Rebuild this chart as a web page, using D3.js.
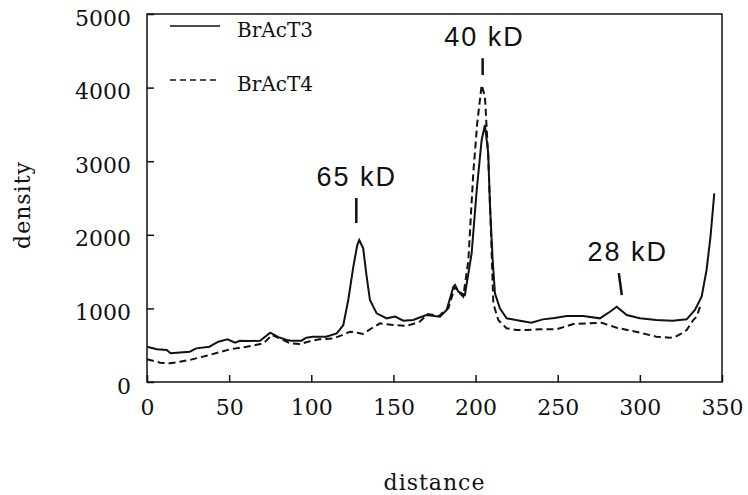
<!DOCTYPE html>
<html>
<head>
<meta charset="utf-8">
<script src="https://cdn.jsdelivr.net/npm/d3@7"></script>
<style>
  body { margin: 0; background: #fff; }
  svg { display: block; }
</style>
</head>
<body>
<div id="grafico"></div>
<script>
// densitometria - BrAcT3 (linha cheia) e BrAcT4 (tracejada)
const bract3 = [
  [0,480],[6,444],[12,435],[14.4,390],[20,400],[26,412],[30,457],[38,480],[43.4,548],[49,580],
  [53.6,534],[56.6,561],[62,556],[68.8,561],[75,670],[80,610],[85,570],[88,561],[94,561],[97,602],
  [101,616],[109,616],[115.5,661],[119.5,774],[122.5,1114],[125.6,1567],[128,1861],[129.2,1929],
  [131.6,1816],[133.7,1431],[135.7,1114],[139.8,933],[145.9,865],[151,888],[156,833],[162,842],
  [170,910],[178.3,888],[182.4,978],[186.5,1295],[187.5,1318],[189.5,1227],[193.5,1182],[197.6,1748],
  [200.7,2609],[203.7,3288],[205.7,3492],[207.7,3107],[208.8,2382],[210.4,1658],[211.8,1205],
  [214.8,1001],[218.9,865],[227,833],[234,806],[241,851],[248,870],[255.4,897],[265.5,897],
  [275.7,865],[281.8,955],[285.9,1023],[292,910],[300,865],[310,842],[320,833],[328.5,851],
  [333.5,978],[337.6,1159],[340.6,1522],[343,1974],[345.3,2563]
];
const bract4 = [
  [0,308],[8,262],[14,254],[20,275],[26,299],[38,367],[50.5,444],[60.7,480],[71,525],[76,639],
  [83,570],[87,525],[93,515],[98,548],[105,580],[113.4,593],[118,630],[123.6,684],[128,670],
  [131.6,652],[136,720],[141.8,797],[150,774],[158,761],[166,820],[171,924],[178,897],[180.3,955],
  [183.4,1001],[187.5,1295],[190.5,1205],[192.5,1159],[195.6,1650],[198.6,2835],[201,3515],
  [203.7,4035],[205.7,3877],[207.7,3061],[209.2,2156],[210.8,1069],[213.8,842],[218.9,729],
  [225,707],[231,707],[239,716],[249.3,716],[259.5,788],[267.6,797],[276.7,806],[285.9,738],
  [300,670],[310,616],[318.3,602],[321.4,610],[325.4,661],[328.5,707],[332.5,842],[334.6,888],
  [336.6,1023],[337.6,1069]
];
const series = ["BrAcT3", "BrAcT4"];
const xTicks = [0, 50, 100, 150, 200, 250, 300, 350];
const yTicks = [0, 1000, 2000, 3000, 4000, 5000];

// marcas das bandas
const bandas = ["65 kD", "40 kD", "28 kD"];
const bandaTopoX = [127.4, 204.3, 287.2];
const bandaBaseX = [127.4, 204.3, 289];
const bandaTopo = [2500, 4400, 1480];
const bandaBase = [2160, 4170, 1180];
const bandaTextoX = [127.7, 205.4, 292.7];

const largura = 748, altura = 495;
const margem = { left: 147, right: 26, top: 14, bottom: 113 };

const svg = d3.select("#grafico").append("svg")
  .attr("width", largura)
  .attr("height", altura);

const x = d3.scaleLinear().domain([0, 350]).range([margem.left, largura - margem.right]);
const y = d3.scaleLinear().domain([0, 5000]).range([altura - margem.bottom, margem.top]);

const serif = "'DejaVu Serif', serif";

// eixo x (ticks para dentro)
const eixoX = svg.append("g")
  .attr("transform", `translate(0,${y(0)})`)
  .call(d3.axisBottom(x).tickValues(xTicks).tickFormat(d3.format("d"))
    .tickSizeInner(-7).tickSizeOuter(0).tickPadding(17));
eixoX.select(".domain").remove();
eixoX.selectAll("text").style("font-family", serif).style("font-size", "22px").attr("fill", "#111");
eixoX.selectAll("line").attr("stroke", "#111").attr("stroke-width", 1.5);

// eixo y
const eixoY = svg.append("g")
  .attr("transform", `translate(${x(0)},0)`)
  .call(d3.axisLeft(y).tickValues(yTicks).tickFormat(d3.format("d"))
    .tickSizeInner(-7).tickSizeOuter(0).tickPadding(16));
eixoY.select(".domain").remove();
eixoY.selectAll("text").style("font-family", serif).style("font-size", "22px").attr("fill", "#111")
  .attr("dy", "0.5em");
eixoY.selectAll("line").attr("stroke", "#111").attr("stroke-width", 1.5);

// moldura
svg.append("rect")
  .attr("x", x(0)).attr("y", y(5000))
  .attr("width", x(350) - x(0)).attr("height", y(0) - y(5000))
  .attr("fill", "none").attr("stroke", "#111").attr("stroke-width", 1.5);

// curvas
const linha = d3.line().x(d => x(d[0])).y(d => y(d[1]));
svg.append("path").datum(bract4)
  .attr("d", linha).attr("fill", "none").attr("stroke", "#111")
  .attr("stroke-width", 2).attr("stroke-dasharray", "7,4");
svg.append("path").datum(bract3)
  .attr("d", linha).attr("fill", "none").attr("stroke", "#111")
  .attr("stroke-width", 2);

// legenda
const leg = svg.append("g");
series.forEach((s, i) => {
  const ly = 26 + i * 54;
  leg.append("line")
    .attr("x1", 170).attr("x2", 220).attr("y1", ly).attr("y2", ly)
    .attr("stroke", "#111").attr("stroke-width", 1.5)
    .attr("stroke-dasharray", i === 1 ? "6,4" : null);
  leg.append("text")
    .attr("x", 237).attr("y", ly + 11)
    .style("font-family", serif).style("font-size", "20px").attr("fill", "#111")
    .text(s);
});

// anotacoes das bandas
bandas.forEach((b, i) => {
  svg.append("line")
    .attr("x1", x(bandaTopoX[i])).attr("x2", x(bandaBaseX[i]))
    .attr("y1", y(bandaTopo[i])).attr("y2", y(bandaBase[i]))
    .attr("stroke", "#111").attr("stroke-width", 2.5);
  svg.append("text")
    .attr("x", x(bandaTextoX[i])).attr("y", y(bandaTopo[i]) - 12)
    .attr("text-anchor", "middle")
    .style("font-family", "'Liberation Sans', Arial, sans-serif")
    .style("font-size", "27px").style("letter-spacing", "2px")
    .attr("fill", "#111")
    .text(b);
});

// titulos dos eixos
svg.append("text")
  .attr("x", (x(0) + x(350)) / 2).attr("y", 490)
  .attr("text-anchor", "middle")
  .style("font-family", serif).style("font-size", "22px").style("letter-spacing", "1px")
  .attr("fill", "#111")
  .text("distance");

svg.append("text")
  .attr("transform", "translate(30,205) rotate(-90)")
  .attr("text-anchor", "middle")
  .style("font-family", serif).style("font-size", "22px").style("letter-spacing", "1px")
  .attr("fill", "#111")
  .text("density");
</script>
</body>
</html>
